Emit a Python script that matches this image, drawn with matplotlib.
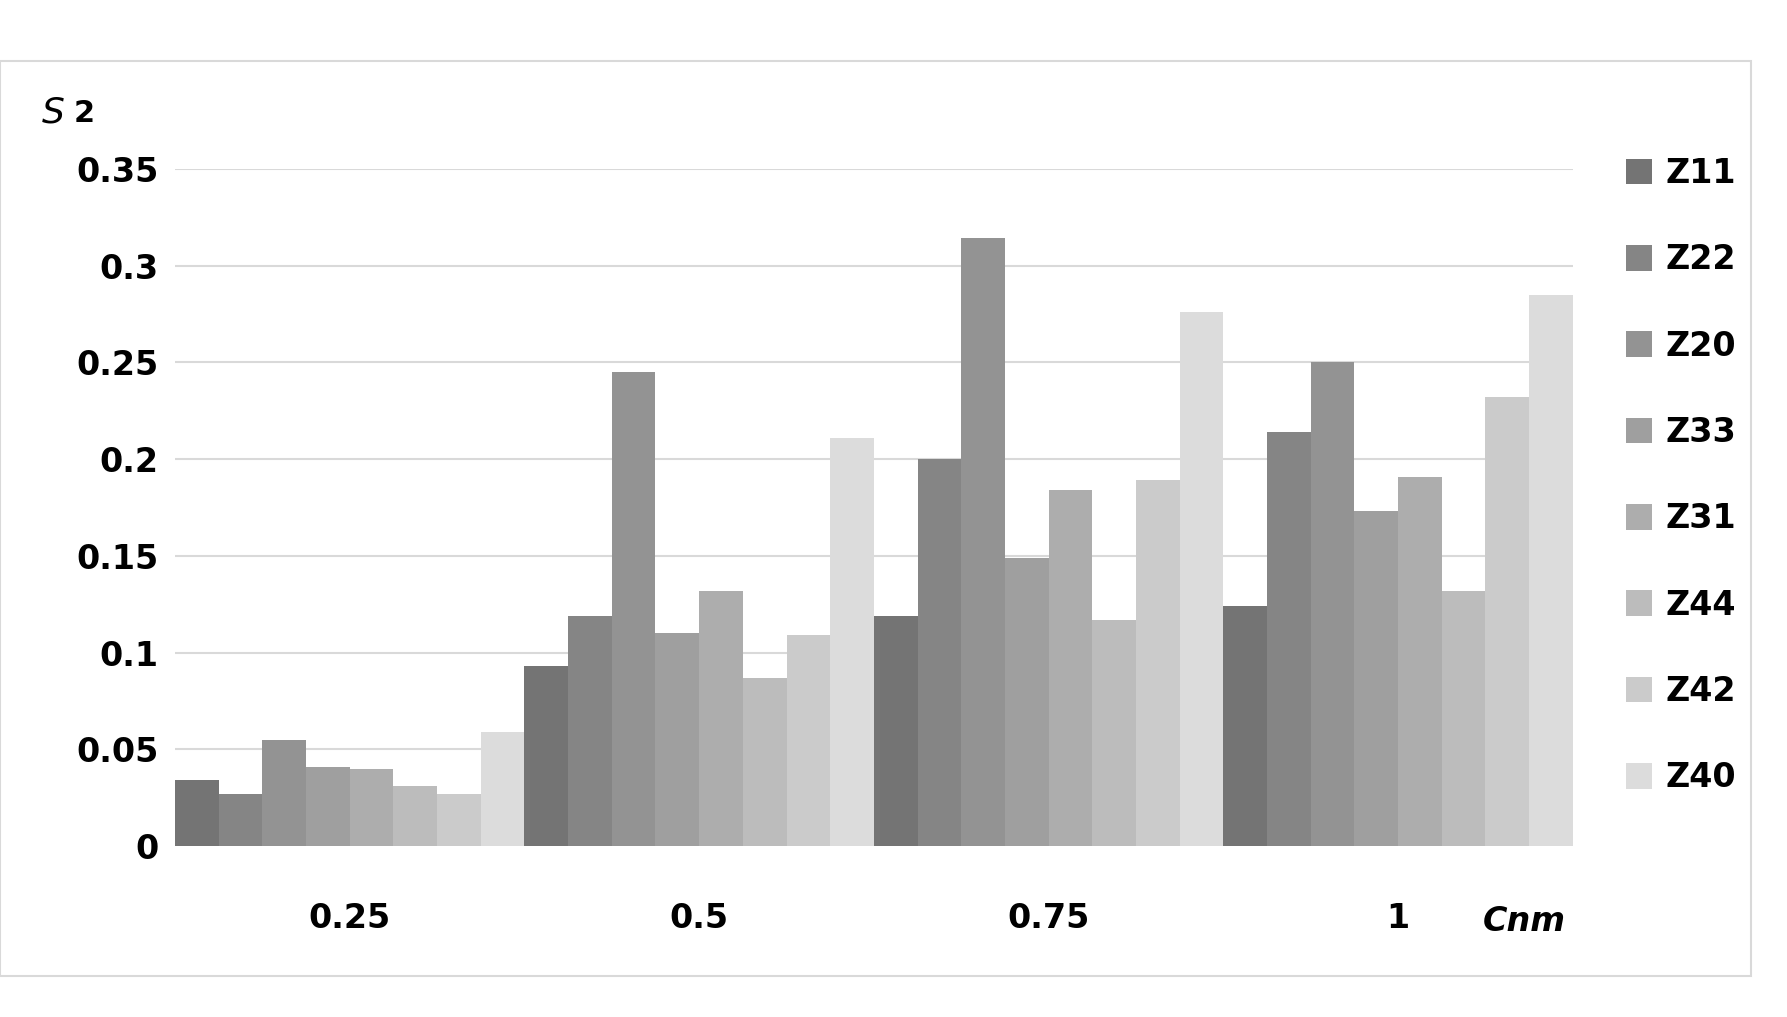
import matplotlib.pyplot as plt
from matplotlib.patches import Rectangle
import numpy as np

groups = ['0.25', '0.5', '0.75', '1']
series = ['Z11', 'Z22', 'Z20', 'Z33', 'Z31', 'Z44', 'Z42', 'Z40']
values = [
    [0.034, 0.093, 0.119, 0.124],  # Z11
    [0.027, 0.119, 0.200, 0.214],  # Z22
    [0.055, 0.245, 0.314, 0.250],  # Z20
    [0.041, 0.110, 0.149, 0.173],  # Z33
    [0.040, 0.132, 0.184, 0.191],  # Z31
    [0.031, 0.087, 0.117, 0.132],  # Z44
    [0.027, 0.109, 0.189, 0.232],  # Z42
    [0.059, 0.211, 0.276, 0.285],  # Z40
]
colors = ['#747474', '#858585', '#939393', '#9f9f9f', '#adadad', '#bcbcbc', '#cbcbcb', '#dcdcdc']

fig = plt.figure(figsize=(17.87, 10.17), dpi=100)
fig.patches.append(Rectangle((0.0, 0.04), 0.98, 0.9, transform=fig.transFigure,
                             fill=False, edgecolor='#d9d9d9', linewidth=1.5))
ax = fig.add_axes([0.098, 0.168, 0.782, 0.666])

x = np.arange(len(groups))
w = 1.0 / len(series)
for i, (name, vals) in enumerate(zip(series, values)):
    ax.bar(x - 0.5 + w * (i + 0.5), vals, w, color=colors[i], label=name, zorder=3)

ax.set_xlim(-0.5, 3.5)
ax.set_ylim(0, 0.35)
yt = [0, 0.05, 0.1, 0.15, 0.2, 0.25, 0.3, 0.35]
ax.set_yticks(yt)
ax.set_yticklabels(['0', '0.05', '0.1', '0.15', '0.2', '0.25', '0.3', '0.35'])
ax.set_xticks(x)
ax.set_xticklabels(groups)
ax.grid(axis='y', color='#d9d9d9', linewidth=1.5, zorder=0)
for s in ax.spines.values():
    s.set_visible(False)
ax.tick_params(length=0, labelsize=24, pad=12)
ax.tick_params(axis='x', pad=40)
for t in ax.get_xticklabels() + ax.get_yticklabels():
    t.set_fontweight('bold')

fig.text(0.023, 0.88, '$\\mathit{S}$', fontsize=26, fontweight='bold')
fig.text(0.041, 0.88, '2', fontsize=22, fontweight='bold')
fig.text(0.83, 0.085, 'Cnm', fontsize=24, fontweight='bold', style='italic')

fig.legend(loc='upper left', bbox_to_anchor=(0.893, 0.875), frameon=False,
           prop={'size': 24, 'weight': 'bold'}, handlelength=0.8, handleheight=0.8,
           labelspacing=1.6, handletextpad=0.4)

fig.savefig('out.png')
